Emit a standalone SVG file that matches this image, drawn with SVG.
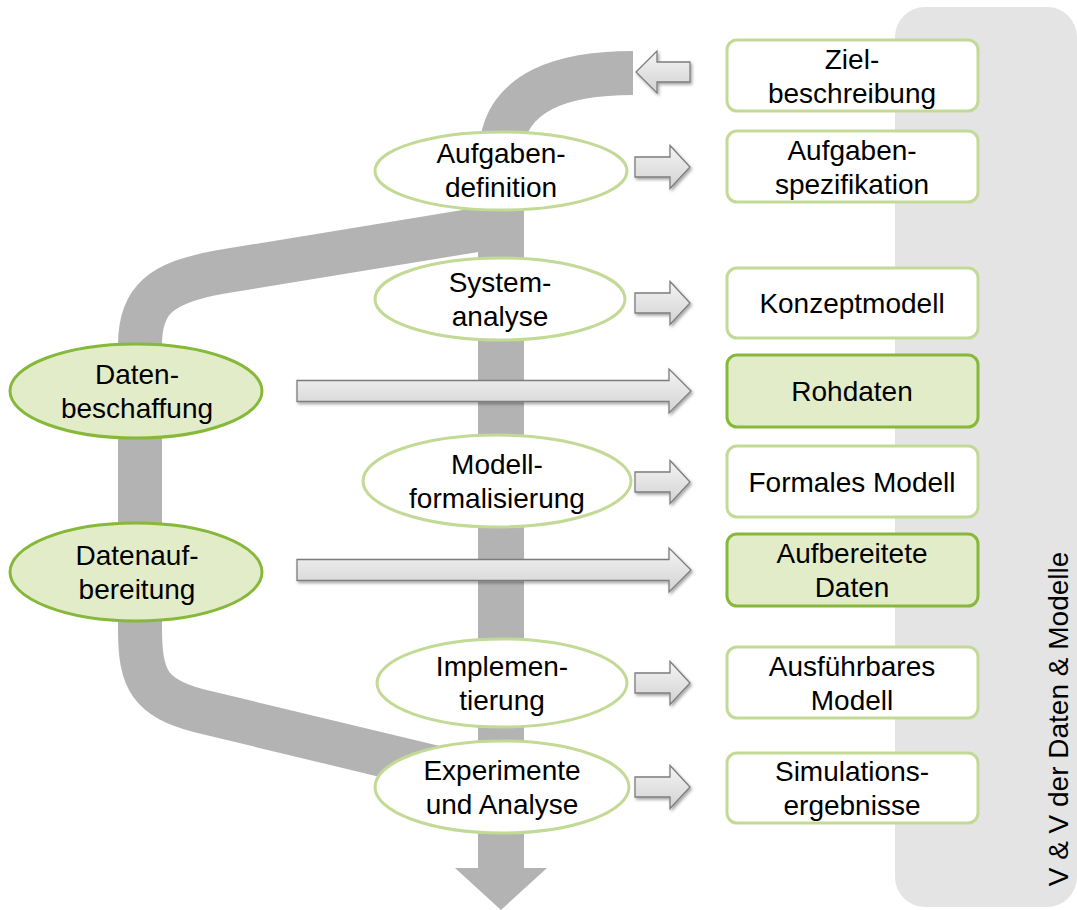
<svg xmlns="http://www.w3.org/2000/svg" width="1077" height="910" viewBox="0 0 1077 910">
  <style>
    text { font-family: "Liberation Sans", Arial, sans-serif; font-size: 28px; fill: #000; text-anchor: middle; }
    .step { fill: #ffffff; stroke: #c3d996; stroke-width: 3; }
    .data { fill: #e3ecc9; stroke: #86b83a; stroke-width: 3; }
    .box { fill: #ffffff; stroke: #c3d996; stroke-width: 3; }
    .box-data { fill: #e3ecc9; stroke: #86b83a; stroke-width: 3; }
    .flow { fill: none; stroke: #b3b3b3; stroke-width: 44; stroke-linecap: butt; stroke-linejoin: round; }
    .block { fill: url(#blockFill); stroke: #7d7d7d; stroke-width: 1.3; filter: url(#shadow); }
  </style>
  <defs>
    <linearGradient id="blockFill" x1="0" y1="0" x2="0" y2="1">
      <stop offset="0" stop-color="#f4f4f4"/>
      <stop offset="1" stop-color="#d2d2d2"/>
    </linearGradient>
    <filter id="shadow" x="-10%" y="-30%" width="120%" height="170%">
      <feDropShadow dx="1.5" dy="2" stdDeviation="1.5" flood-color="#000" flood-opacity="0.35"/>
    </filter>
  </defs>

  <!-- V&V side band -->
  <g id="vv-panel">
    <rect x="895" y="7" width="182" height="900" rx="30" ry="30" fill="#e4e4e4"/>
    <text transform="translate(1068 719) rotate(-90)">V &amp; V der Daten &amp; Modelle</text>
  </g>

  <g id="connectors">
    <!-- main process flow -->
    <path class="flow" d="M 633 73 C 565 73 505 90 501 150"/>
    <rect x="478" y="140" width="46" height="730" fill="#b3b3b3"/>
    <polygon points="455,868 547,868 501,910" fill="#b3b3b3"/>
    <!-- data branch -->
    <path class="flow" d="M 501 226 L 220 272 C 160 283 140 300 140 345 L 140 630 C 140 680 150 698 200 711 L 445 770"/>

    <!-- hand-over arrows -->
    <path class="block" d="M 690 62 H 657 V 51 L 636 72 L 657 93 V 82 H 690 Z"/>
    <path class="block" d="M 635 157 H 670 V 145.5 L 690 167 L 670 188.5 V 177 H 635 Z"/>
    <path class="block" d="M 635 293 H 670 V 281.5 L 690 303 L 670 324.5 V 313 H 635 Z"/>
    <path class="block" d="M 297 380.5 H 669 V 369 L 691 391 L 669 413 V 401.5 H 297 Z"/>
    <path class="block" d="M 635 472 H 670 V 460.5 L 690 482 L 670 503.5 V 492 H 635 Z"/>
    <path class="block" d="M 297 559.5 H 669 V 548 L 691 570 L 669 592 V 580.5 H 297 Z"/>
    <path class="block" d="M 635 673 H 670 V 661.5 L 690 683 L 670 704.5 V 693 H 635 Z"/>
    <path class="block" d="M 635 777 H 670 V 765.5 L 690 787 L 670 808.5 V 797 H 635 Z"/>
  </g>

  <!-- process steps -->
  <g id="aufgabendefinition">
    <ellipse class="step" cx="501" cy="171" rx="126" ry="39"/>
    <text x="501" y="163">Aufgaben-</text>
    <text x="501" y="197">definition</text>
  </g>
  <g id="systemanalyse">
    <ellipse class="step" cx="500" cy="299" rx="125" ry="41"/>
    <text x="500" y="292">System-</text>
    <text x="500" y="326">analyse</text>
  </g>
  <g id="modellformalisierung">
    <ellipse class="step" cx="497" cy="481" rx="134" ry="46"/>
    <text x="497" y="474">Modell-</text>
    <text x="497" y="508">formalisierung</text>
  </g>
  <g id="implementierung">
    <ellipse class="step" cx="502" cy="683" rx="125" ry="44"/>
    <text x="502" y="676">Implemen-</text>
    <text x="502" y="710">tierung</text>
  </g>
  <g id="experimente">
    <ellipse class="step" cx="502" cy="787" rx="127" ry="46"/>
    <text x="502" y="780">Experimente</text>
    <text x="502" y="814">und Analyse</text>
  </g>

  <!-- data steps -->
  <g id="datenbeschaffung">
    <ellipse class="data" cx="136" cy="391" rx="126" ry="47"/>
    <text x="137" y="384">Daten-</text>
    <text x="137" y="418">beschaffung</text>
  </g>
  <g id="datenaufbereitung">
    <ellipse class="data" cx="136" cy="572" rx="126" ry="49"/>
    <text x="137" y="565">Datenauf-</text>
    <text x="137" y="599">bereitung</text>
  </g>

  <!-- results -->
  <g id="zielbeschreibung">
    <rect class="box" x="727" y="40" width="251" height="71" rx="10"/>
    <text x="852" y="69">Ziel-</text>
    <text x="852" y="103">beschreibung</text>
  </g>
  <g id="aufgabenspezifikation">
    <rect class="box" x="727" y="131" width="251" height="71" rx="10"/>
    <text x="852" y="160">Aufgaben-</text>
    <text x="852" y="194">spezifikation</text>
  </g>
  <g id="konzeptmodell">
    <rect class="box" x="727" y="268" width="251" height="70" rx="10"/>
    <text x="852" y="313">Konzeptmodell</text>
  </g>
  <g id="rohdaten">
    <rect class="box-data" x="727" y="355" width="251" height="72" rx="10"/>
    <text x="852" y="401">Rohdaten</text>
  </g>
  <g id="formales-modell">
    <rect class="box" x="727" y="446" width="251" height="71" rx="10"/>
    <text x="852" y="492">Formales Modell</text>
  </g>
  <g id="aufbereitete-daten">
    <rect class="box-data" x="727" y="534" width="251" height="72" rx="10"/>
    <text x="852" y="563">Aufbereitete</text>
    <text x="852" y="597">Daten</text>
  </g>
  <g id="ausfuehrbares-modell">
    <rect class="box" x="727" y="647" width="251" height="71" rx="10"/>
    <text x="852" y="676">Ausführbares</text>
    <text x="852" y="710">Modell</text>
  </g>
  <g id="simulationsergebnisse">
    <rect class="box" x="727" y="753" width="251" height="70" rx="10"/>
    <text x="852" y="781">Simulations-</text>
    <text x="852" y="815">ergebnisse</text>
  </g>
</svg>
